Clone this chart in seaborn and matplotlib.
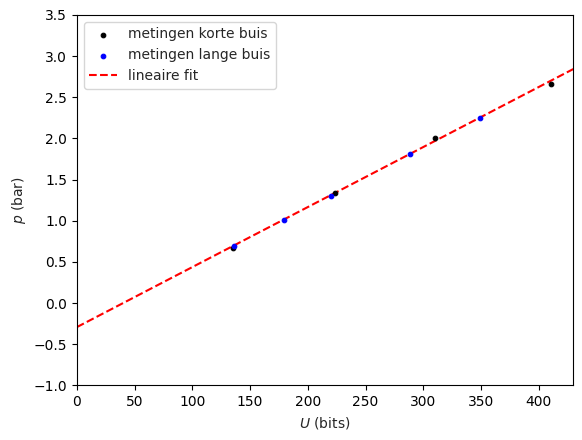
import numpy as np
import pandas as pd
import matplotlib
matplotlib.use("Agg")
import matplotlib.pyplot as plt
import seaborn as sns

# data
U_kort = [135.6, 223.3, 310.0, 410.7]
p_kort = [0.665, 1.340, 2.001, 2.657]
U_lang = [136.0, 179.0, 219.8, 288.9, 349.1]
p_lang = [0.693, 1.005, 1.296, 1.807, 2.244]
fit_slope = 0.00729
fit_intercept = -0.292
x_range = [0, 430]

sns.set_style("ticks")
plt.rcParams['font.family'] = ['DejaVu Sans']

fig = plt.figure(figsize=(5.82, 4.40), dpi=100)
ax = fig.add_axes([0.1323, 0.1243, 0.8527, 0.8417])

df_k = pd.DataFrame({"U": U_kort, "p": p_kort})
df_l = pd.DataFrame({"U": U_lang, "p": p_lang})
xf = np.linspace(x_range[0], x_range[1], 100)
df_f = pd.DataFrame({"U": xf, "p": fit_slope * xf + fit_intercept})

sns.scatterplot(data=df_k, x="U", y="p", ax=ax, color="black", marker="o",
                s=11, edgecolor="black", linewidth=0.8, label="metingen korte buis", zorder=3)
sns.scatterplot(data=df_l, x="U", y="p", ax=ax, color="blue", marker="o",
                s=11, edgecolor="blue", linewidth=0.8, label="metingen lange buis", zorder=3)
sns.lineplot(data=df_f, x="U", y="p", ax=ax, color="red", linestyle="--",
             linewidth=1.5, label="lineaire fit", zorder=2)

ax.set_xlim(0, 430)
ax.set_ylim(-1.0, 3.5)
ax.set_xticks(np.arange(0, 401, 50))
ax.set_yticks(np.arange(-1.0, 3.51, 0.5))
ax.set_xlabel("$U$ (bits)")
ax.set_ylabel("$p$ (bar)")
for s in ax.spines.values():
    s.set_visible(True)
    s.set_linewidth(0.8)
    s.set_color("black")
ax.tick_params(direction="out", length=3.5, width=0.8, labelsize=10, colors="black")
ax.legend(loc="upper left", frameon=True, fontsize=10)

fig.savefig("out.png", dpi=100)
